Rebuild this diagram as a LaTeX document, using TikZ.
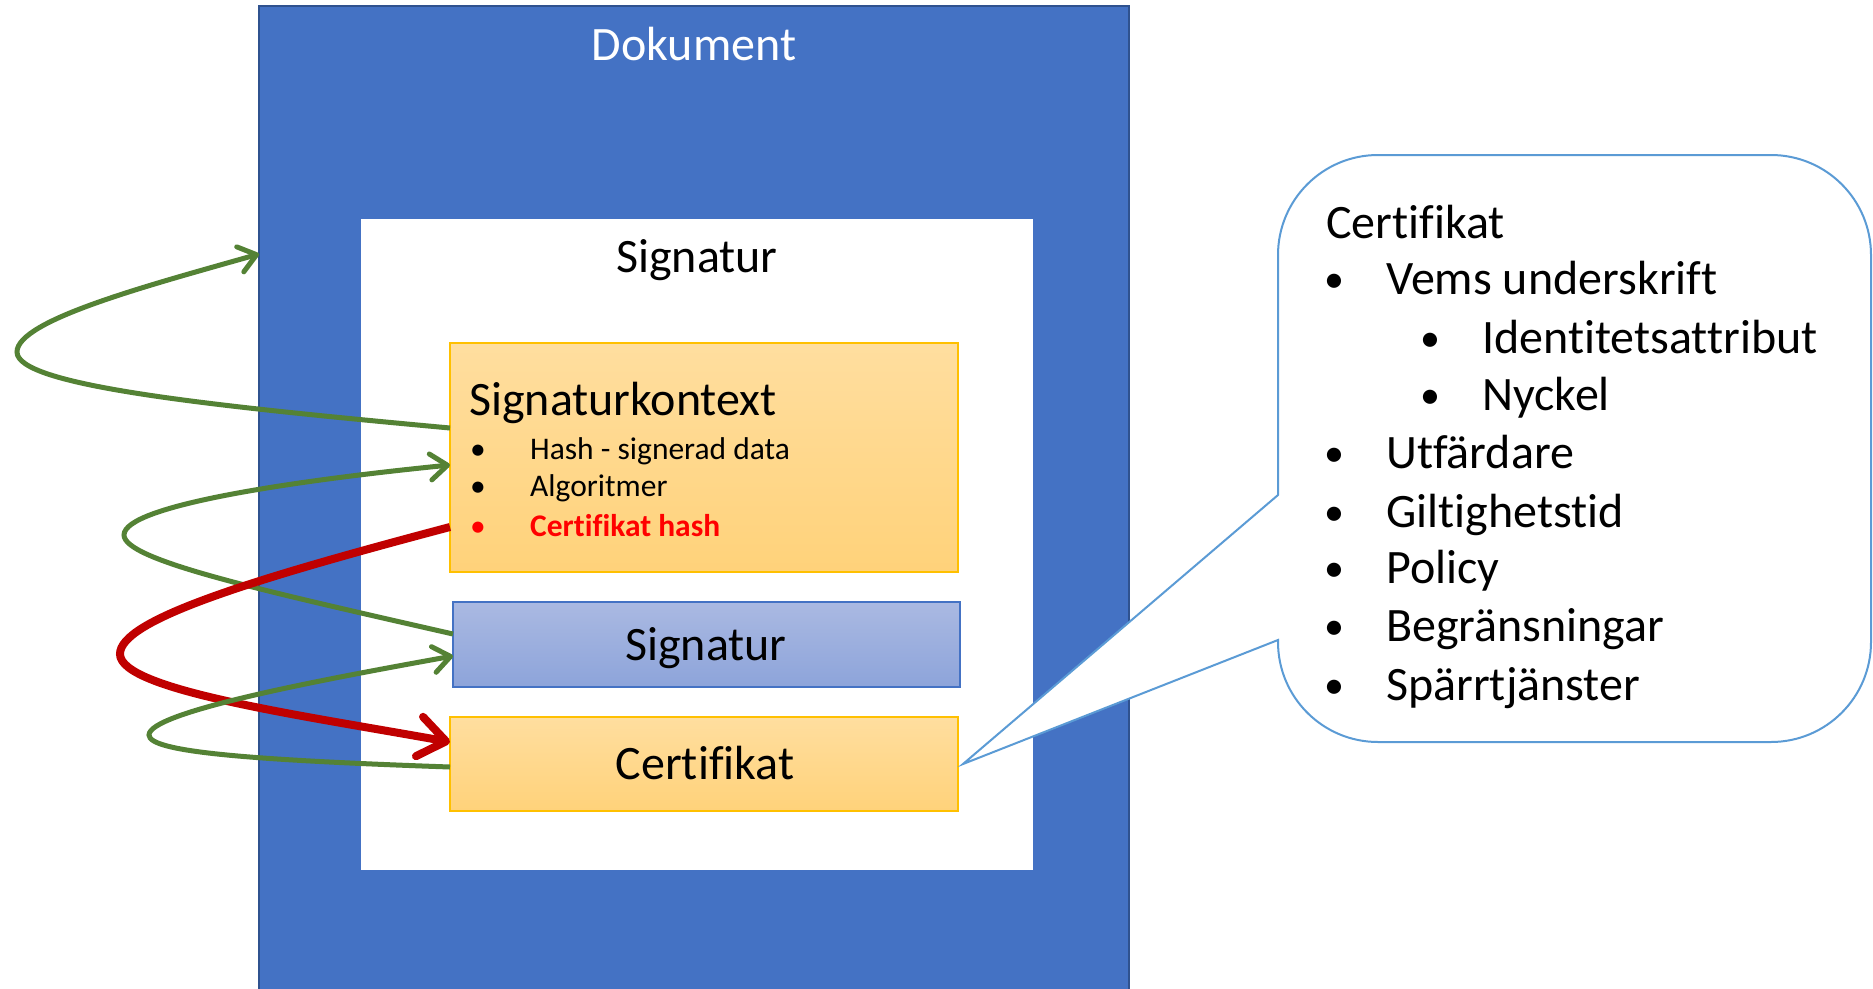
\documentclass[tikz,border=0pt]{standalone}
\usepackage{fontspec}
\setmainfont{Carlito}[Ligatures=NoCommon]
\usetikzlibrary{arrows.meta}
\definecolor{docblue}{HTML}{4472C4}
\definecolor{docedge}{HTML}{2F528F}
\definecolor{goldedge}{HTML}{FFC000}
\definecolor{goldtop}{HTML}{FFDE9F}
\definecolor{goldbot}{HTML}{FFD27A}
\definecolor{sigtop}{HTML}{AAB9E2}
\definecolor{sigbot}{HTML}{8DA4DA}
\definecolor{calloutedge}{HTML}{5B9BD5}
\definecolor{linkgreen}{HTML}{548235}
\definecolor{linkred}{HTML}{C00000}
\definecolor{hashred}{HTML}{FF0000}
\begin{document}
\begin{tikzpicture}[x=1pt,y=-1pt,
  box/.style={inner sep=0pt,outer sep=0pt,anchor=north west},
  goldbox/.style={box,draw=goldedge,line width=2.5pt,top color=goldtop,bottom color=goldbot},
  bigtext/.style={inner sep=0pt,font=\fontsize{48}{57}\selectfont},
  smalltext/.style={inner sep=0pt,anchor=base west,font=\fontsize{31.5}{38}\selectfont},
  listtext/.style={inner sep=0pt,anchor=base west,font=\fontsize{48}{57}\selectfont},
  listdot/.style={inner sep=0pt,anchor=base,font=\fontsize{40}{48}\selectfont},
  greenlink/.style={draw=linkgreen,line width=5pt,
    -{Straight Barb[round,length=17pt,width=26pt]}},
  redlink/.style={draw=linkred,line width=8pt,
    -{Straight Barb[round,length=27pt,width=40pt]}}]
\useasboundingbox (0,0) rectangle (1873,988);

% document and signature containers
\node[box,fill=docblue,draw=docedge,line width=2pt,minimum width=870pt,minimum height=990pt] (doc) at (259,6) {};
\node[bigtext,anchor=base,text=white] (doctitle) at (694,60) {Dokument};
\node[box,fill=white,minimum width=672pt,minimum height=651pt] (sigarea) at (361,219) {};
\node[bigtext,anchor=base] (sigtitle) at (697,272) {Signatur};

% signature parts
\node[goldbox,minimum width=508pt,minimum height=229pt] (ctx) at (450,343) {};
\node[bigtext,anchor=base west] (ctxtitle) at (469,415) {Signaturkontext};
\node[smalltext] (cb1) at (470,459) {•};
\node[smalltext] (ct1) at (530,459) {Hash - signerad data};
\node[smalltext] (cb2) at (470,496) {•};
\node[smalltext] (ct2) at (530,496) {Algoritmer};
\node[smalltext,text=hashred] (cb3) at (470,536) {•};
\node[smalltext,text=hashred,font=\fontsize{31.5}{38}\selectfont\bfseries] (ct3) at (530,536) {Certifikat hash};

\node[box,draw=docblue,line width=2.5pt,top color=sigtop,bottom color=sigbot,minimum width=507pt,minimum height=85pt] (sig) at (453,602) {};
\node[bigtext,anchor=base] (sigtext) at (706,660) {Signatur};

\node[goldbox,minimum width=508pt,minimum height=94pt] (cert) at (450,717) {};
\node[bigtext,anchor=base] (certtext) at (705,779) {Certifikat};

% callout describing the certificate
\draw[calloutedge,line width=2pt,fill=white]
  (1278,495) -- (1278,255) arc (180:270:100) -- (1771,155) arc (270:360:100)
  -- (1871,642) arc (0:90:100) -- (1378,742) arc (90:180:100)
  -- (1278,640) -- ([xshift=5pt]cert.east) -- cycle;
\node[listtext] (lt0) at (1326,238) {Certifikat};
\node[listdot] (lb1) at (1334,292) {•};
\node[listtext] (lt1) at (1386,294) {Vems underskrift};
\node[listdot] (lb2) at (1430,351) {•};
\node[listtext] (lt2) at (1482,353) {Identitetsattribut};
\node[listdot] (lb3) at (1430,408) {•};
\node[listtext] (lt3) at (1482,410) {Nyckel};
\node[listdot] (lb4) at (1334,466) {•};
\node[listtext] (lt4) at (1386,468) {Utfärdare};
\node[listdot] (lb5) at (1334,525) {•};
\node[listtext] (lt5) at (1386,527) {Giltighetstid};
\node[listdot] (lb6) at (1334,581) {•};
\node[listtext] (lt6) at (1386,583) {Policy};
\node[listdot] (lb7) at (1334,639) {•};
\node[listtext] (lt7) at (1386,641) {Begränsningar};
\node[listdot] (lb8) at (1334,698) {•};
\node[listtext] (lt8) at (1386,700) {Spärrtjänster};

% references between the parts
\draw[greenlink] ([yshift=-85pt]ctx.north west)
  .. controls (200,405) and (17,385) .. (17,352)
  .. controls (17,320) and (150,285) .. ([yshift=-248pt]doc.north west);
\draw[greenlink] ([yshift=-32pt]sig.north west)
  .. controls (260,590) and (124,560) .. (124,535)
  .. controls (124,505) and (300,480) .. ([yshift=-122pt]ctx.north west);
\draw[redlink] ([yshift=-184pt]ctx.north west)
  .. controls (250,580) and (120,620) .. (120,654)
  .. controls (120,690) and (300,715) .. ([yshift=-25pt]cert.north west);
\draw[greenlink] ([yshift=-50pt]cert.north west)
  .. controls (250,760) and (149,752) .. (149,735)
  .. controls (149,712) and (320,680) .. ([yshift=-54pt]sig.north west);
\end{tikzpicture}
\end{document}
